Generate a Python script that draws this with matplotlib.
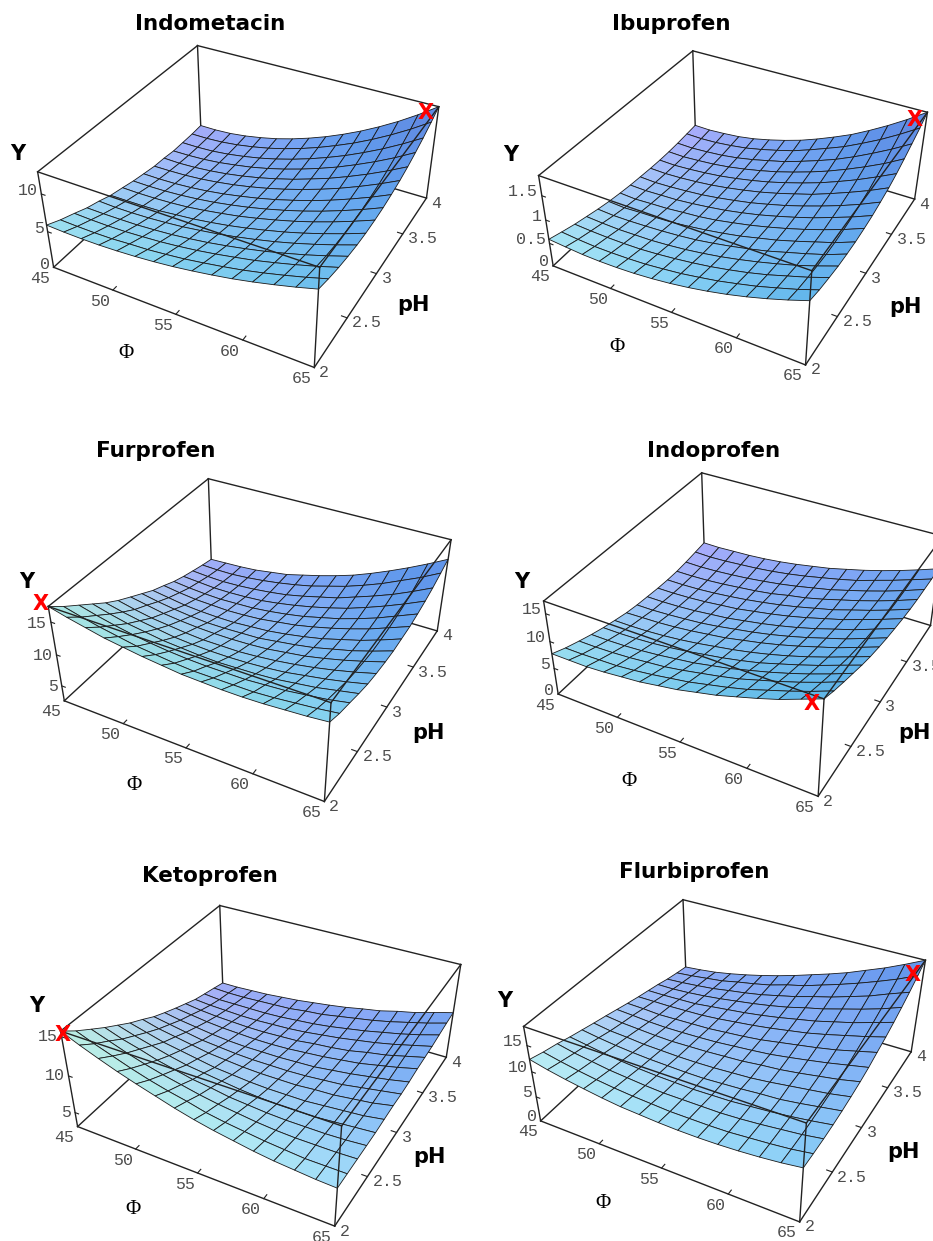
import numpy as np
import matplotlib
matplotlib.use('Agg')
import matplotlib.pyplot as plt

W, H = 933, 1241
names = ['Indometacin', 'Ibuprofen', 'Furprofen', 'Indoprofen', 'Ketoprofen', 'Flurbiprofen']
phi_grid = [45, 46.43, 47.86, 49.29, 50.71, 52.14, 53.57, 55, 56.43, 57.86, 59.29, 60.71, 62.14, 63.57, 65]
ph_grid = [2, 2.14, 2.29, 2.43, 2.57, 2.71, 2.86, 3, 3.14, 3.29, 3.43, 3.57, 3.71, 3.86, 4]
phi_ticks = [45, 50, 55, 60, 65]
ph_ticks = [2, 2.5, 3, 3.5, 4]
ph_tick_labels = ['2', '2.5', '3', '3.5', '4']
y_tick_sets = [[0, 5, 10], [0, 0.5, 1, 1.5], [5, 10, 15], [0, 5, 10, 15], [5, 10, 15], [0, 5, 10, 15]]
y_tick_labels = [['0', '5', '10'], ['0', '0.5', '1', '1.5'], ['5', '10', '15'], ['0', '5', '10', '15'], ['5', '10', '15'], ['0', '5', '10', '15']]
y_ranges = [(0, 12.8), (0, 1.9), (2.5, 17.3), (0, 17.2), (3, 15.7), (0, 18.5)]

# Y, rows = phi_grid, columns = ph_grid
y_indometacin = [
    [5.9, 5.1, 4.4, 3.7, 3.2, 2.6, 2.2, 1.8, 1.5, 1.2, 1.1, 0.9, 0.9, 0.9, 1.0],
    [5.8, 5.03, 4.32, 3.67, 3.11, 2.61, 2.17, 1.78, 1.48, 1.23, 1.05, 0.93, 0.89, 0.9, 0.99],
    [5.76, 5.0, 4.3, 3.7, 3.13, 2.65, 2.22, 1.85, 1.55, 1.31, 1.15, 1.04, 0.99, 1.02, 1.11],
    [5.78, 5.04, 4.36, 3.75, 3.23, 2.75, 2.34, 2.0, 1.72, 1.5, 1.36, 1.27, 1.24, 1.29, 1.4],
    [5.87, 5.2, 4.5, 3.9, 3.4, 2.99, 2.53, 2.24, 1.98, 1.79, 1.66, 1.63, 1.61, 1.68, 1.82],
    [6.02, 5.32, 4.67, 4.09, 3.63, 3.22, 2.85, 2.55, 2.33, 2.16, 2.07, 2.04, 2.07, 2.17, 2.34],
    [6.23, 5.56, 4.93, 4.38, 3.96, 3.56, 3.23, 2.96, 2.78, 2.63, 2.57, 2.58, 2.65, 2.8, 3.01],
    [6.5, 5.84, 5.25, 4.72, 4.32, 3.96, 3.65, 3.43, 3.28, 3.18, 3.17, 3.22, 3.34, 3.53, 3.8],
    [6.85, 6.22, 5.65, 5.15, 4.78, 4.44, 4.18, 3.99, 3.87, 3.82, 3.85, 3.96, 4.13, 4.38, 4.7],
    [7.25, 6.64, 6.11, 5.63, 5.29, 5.0, 4.77, 4.62, 4.56, 4.56, 4.65, 4.8, 5.03, 5.35, 5.73],
    [7.7, 7.11, 6.6, 6.17, 5.86, 5.6, 5.42, 5.32, 5.31, 5.36, 5.5, 5.72, 6.02, 6.4, 6.87],
    [8.23, 7.67, 7.2, 6.8, 6.51, 6.29, 6.16, 6.11, 6.15, 6.26, 6.48, 6.77, 7.14, 7.59, 8.14],
    [8.83, 8.3, 7.85, 7.48, 7.24, 7.07, 6.99, 7.0, 7.1, 7.27, 7.55, 7.91, 8.36, 8.91, 9.54],
    [9.48, 8.98, 8.56, 8.25, 8.04, 7.91, 7.9, 7.95, 8.12, 8.37, 8.73, 9.17, 9.72, 10.36, 11.1],
    [10.2, 9.73, 9.34, 9.08, 8.9, 8.83, 8.88, 9.0, 9.25, 9.58, 10.02, 10.57, 11.2, 11.96, 12.8],
]
y_ibuprofen = [
    [0.59, 0.51, 0.43, 0.37, 0.31, 0.26, 0.22, 0.19, 0.17, 0.15, 0.14, 0.14, 0.15, 0.17, 0.19],
    [0.56, 0.48, 0.41, 0.35, 0.29, 0.24, 0.2, 0.18, 0.155, 0.14, 0.13, 0.13, 0.14, 0.16, 0.18],
    [0.534, 0.46, 0.4, 0.34, 0.295, 0.26, 0.22, 0.195, 0.17, 0.155, 0.15, 0.152, 0.16, 0.174, 0.2],
    [0.527, 0.46, 0.4, 0.35, 0.31, 0.27, 0.235, 0.21, 0.196, 0.183, 0.18, 0.18, 0.188, 0.209, 0.23],
    [0.533, 0.47, 0.41, 0.36, 0.33, 0.29, 0.27, 0.245, 0.228, 0.221, 0.221, 0.226, 0.238, 0.258, 0.285],
    [0.551, 0.49, 0.44, 0.39, 0.36, 0.33, 0.3, 0.29, 0.28, 0.276, 0.28, 0.291, 0.308, 0.333, 0.365],
    [0.584, 0.53, 0.48, 0.43, 0.4, 0.38, 0.35, 0.343, 0.343, 0.343, 0.351, 0.368, 0.395, 0.422, 0.46],
    [0.63, 0.575, 0.53, 0.485, 0.46, 0.44, 0.42, 0.413, 0.413, 0.419, 0.434, 0.457, 0.485, 0.522, 0.57],
    [0.69, 0.64, 0.59, 0.55, 0.53, 0.51, 0.495, 0.493, 0.503, 0.513, 0.536, 0.565, 0.605, 0.652, 0.705],
    [0.763, 0.71, 0.665, 0.63, 0.61, 0.6, 0.585, 0.59, 0.6, 0.62, 0.647, 0.684, 0.733, 0.793, 0.855],
    [0.849, 0.8, 0.75, 0.72, 0.7, 0.69, 0.685, 0.695, 0.713, 0.731, 0.771, 0.818, 0.873, 0.94, 1.017],
    [0.949, 0.895, 0.85, 0.82, 0.81, 0.8, 0.795, 0.81, 0.836, 0.868, 0.914, 0.97, 1.038, 1.119, 1.21],
    [1.063, 1.01, 0.97, 0.93, 0.92, 0.92, 0.92, 0.945, 0.97, 1.015, 1.07, 1.137, 1.224, 1.31, 1.42],
    [1.19, 1.13, 1.09, 1.06, 1.04, 1.04, 1.055, 1.083, 1.12, 1.172, 1.245, 1.319, 1.422, 1.526, 1.65],
    [1.33, 1.27, 1.23, 1.2, 1.19, 1.19, 1.21, 1.24, 1.29, 1.35, 1.43, 1.53, 1.64, 1.76, 1.9],
]
y_furprofen = [
    [17.3, 15.7, 14.2, 12.8, 11.4, 10.2, 9.1, 8.1, 7.1, 6.3, 5.5, 4.9, 4.4, 3.9, 3.5],
    [16.6, 15.0, 13.5, 12.1, 10.8, 9.6, 8.6, 7.6, 6.7, 5.9, 5.2, 4.7, 4.2, 3.8, 3.6],
    [16.0, 14.4, 12.9, 11.5, 10.3, 9.1, 8.1, 7.2, 6.3, 5.6, 5.0, 4.5, 4.1, 3.8, 3.7],
    [15.4, 13.9, 12.4, 11.1, 9.9, 8.8, 7.8, 6.9, 6.1, 5.5, 4.9, 4.5, 4.2, 4.0, 3.9],
    [15.0, 13.4, 12.0, 10.7, 9.5, 8.5, 7.6, 6.7, 6.0, 5.4, 5.0, 4.6, 4.4, 4.3, 4.3],
    [14.6, 13.1, 11.7, 10.5, 9.3, 8.3, 7.5, 6.7, 6.0, 5.5, 5.1, 4.8, 4.7, 4.7, 4.7],
    [14.3, 12.8, 11.5, 10.3, 9.2, 8.3, 7.5, 6.8, 6.2, 5.7, 5.4, 5.2, 5.1, 5.2, 5.4],
    [14.0, 12.6, 11.4, 10.2, 9.2, 8.3, 7.6, 6.9, 6.4, 6.1, 5.8, 5.7, 5.7, 5.8, 6.1],
    [13.9, 12.6, 11.4, 10.3, 9.3, 8.5, 7.8, 7.3, 6.8, 6.5, 6.3, 6.3, 6.4, 6.6, 6.9],
    [13.8, 12.6, 11.4, 10.4, 9.5, 8.8, 8.2, 7.7, 7.3, 7.1, 7.0, 7.0, 7.1, 7.4, 7.8],
    [13.8, 12.6, 11.6, 10.6, 9.8, 9.2, 8.6, 8.2, 7.9, 7.8, 7.7, 7.8, 8.1, 8.4, 8.9],
    [13.9, 12.8, 11.8, 11.0, 10.3, 9.7, 9.2, 8.9, 8.7, 8.6, 8.6, 8.8, 9.1, 9.5, 10.1],
    [14.1, 13.1, 12.2, 11.4, 10.8, 10.3, 9.9, 9.6, 9.5, 9.5, 9.6, 9.9, 10.2, 10.8, 11.4],
    [14.3, 13.4, 12.6, 12.0, 11.4, 11.0, 10.7, 10.5, 10.5, 10.6, 10.8, 11.1, 11.5, 12.1, 12.8],
    [14.6, 13.8, 13.2, 12.6, 12.1, 11.8, 11.6, 11.5, 11.6, 11.7, 12.0, 12.4, 12.9, 13.6, 14.3],
]
y_indoprofen = [
    [7.76, 6.74, 5.84, 5.06, 4.38, 3.82, 3.26, 2.92, 2.7, 2.47, 2.36, 2.36, 2.53, 2.81, 3.09],
    [7.76, 6.74, 5.84, 5.06, 4.38, 3.82, 3.37, 2.92, 2.7, 2.47, 2.36, 2.36, 2.47, 2.7, 3.03],
    [7.76, 6.86, 5.96, 5.17, 4.5, 3.93, 3.48, 3.09, 2.81, 2.59, 2.47, 2.47, 2.59, 2.81, 3.15],
    [7.98, 6.97, 6.18, 5.4, 4.72, 4.16, 3.71, 3.32, 3.03, 2.81, 2.7, 2.7, 2.81, 3.03, 3.26],
    [8.32, 7.31, 6.52, 5.73, 5.06, 4.5, 4.05, 3.6, 3.37, 3.15, 3.03, 3.03, 3.09, 3.26, 3.48],
    [8.65, 7.76, 6.86, 6.18, 5.51, 4.95, 4.5, 4.05, 3.71, 3.48, 3.43, 3.37, 3.48, 3.6, 3.82],
    [9.22, 8.32, 7.42, 6.63, 6.07, 5.51, 4.95, 4.61, 4.27, 4.05, 3.93, 3.82, 3.93, 4.05, 4.27],
    [9.78, 8.88, 8.09, 7.31, 6.63, 6.07, 5.62, 5.17, 4.83, 4.61, 4.5, 4.5, 4.5, 4.61, 4.83],
    [10.57, 9.67, 8.77, 7.98, 7.31, 6.74, 6.29, 5.84, 5.51, 5.28, 5.17, 5.06, 5.17, 5.28, 5.4],
    [11.35, 10.45, 9.55, 8.88, 8.09, 7.53, 7.08, 6.63, 6.29, 6.07, 5.96, 5.84, 5.84, 5.96, 6.18],
    [12.36, 11.35, 10.57, 9.78, 9.1, 8.43, 7.98, 7.53, 7.19, 6.97, 6.74, 6.74, 6.74, 6.74, 6.97],
    [13.38, 12.48, 11.58, 10.79, 10.12, 9.44, 8.99, 8.54, 8.21, 7.87, 7.76, 7.64, 7.64, 7.76, 7.87],
    [14.5, 13.6, 12.7, 11.91, 11.24, 10.57, 10.0, 9.55, 9.22, 8.99, 8.77, 8.65, 8.65, 8.77, 8.88],
    [15.85, 14.84, 13.94, 13.15, 12.48, 11.8, 11.24, 10.79, 10.45, 10.12, 9.89, 9.78, 9.78, 9.89, 10.0],
    [17.2, 16.19, 15.29, 14.5, 13.71, 13.04, 12.48, 12.03, 11.69, 11.35, 11.13, 11.02, 11.02, 11.02, 11.18],
]
y_ketoprofen = [
    [15.7, 14.4, 13.2, 12.1, 11.1, 10.1, 9.2, 8.3, 7.6, 6.9, 6.3, 5.7, 5.3, 4.9, 4.5],
    [14.7, 13.5, 12.4, 11.3, 10.4, 9.5, 8.6, 7.9, 7.2, 6.6, 6.0, 5.5, 5.1, 4.8, 4.5],
    [13.8, 12.7, 11.6, 10.7, 9.8, 8.9, 8.2, 7.5, 6.9, 6.3, 5.8, 5.4, 5.1, 4.8, 4.6],
    [12.95, 11.9, 10.9, 10.0, 9.2, 8.5, 7.8, 7.1, 6.6, 6.1, 5.7, 5.3, 5.1, 4.9, 4.7],
    [12.2, 11.2, 10.3, 9.5, 8.7, 8.1, 7.4, 6.9, 6.4, 6.0, 5.6, 5.3, 5.1, 5.0, 4.9],
    [11.5, 10.6, 9.8, 9.0, 8.4, 7.7, 7.2, 6.7, 6.3, 5.9, 5.6, 5.4, 5.2, 5.1, 5.1],
    [10.8, 10.1, 9.3, 8.7, 8.1, 7.5, 7.0, 6.6, 6.3, 5.9, 5.7, 5.5, 5.4, 5.4, 5.4],
    [10.2, 9.5, 8.9, 8.3, 7.8, 7.3, 6.9, 6.6, 6.3, 6.0, 5.8, 5.7, 5.6, 5.6, 5.7],
    [9.7, 9.1, 8.6, 8.1, 7.6, 7.2, 6.9, 6.6, 6.4, 6.2, 6.1, 6.0, 5.9, 6.0, 6.05],
    [9.3, 8.8, 8.3, 7.9, 7.5, 7.2, 6.9, 6.7, 6.5, 6.4, 6.3, 6.3, 6.3, 6.4, 6.5],
    [8.9, 8.5, 8.1, 7.8, 7.5, 7.2, 7.1, 6.9, 6.8, 6.7, 6.6, 6.7, 6.7, 6.8, 6.9],
    [8.6, 8.3, 8.0, 7.8, 7.5, 7.4, 7.2, 7.1, 7.1, 7.0, 7.1, 7.1, 7.2, 7.3, 7.5],
    [8.4, 8.1, 8.0, 7.8, 7.7, 7.6, 7.5, 7.5, 7.5, 7.5, 7.5, 7.6, 7.7, 7.9, 8.0],
    [8.2, 8.1, 8.0, 7.9, 7.9, 7.8, 7.8, 7.9, 7.9, 8.0, 8.1, 8.2, 8.3, 8.5, 8.7],
    [8.1, 8.1, 8.1, 8.1, 8.1, 8.2, 8.3, 8.3, 8.4, 8.6, 8.7, 8.8, 9.0, 9.2, 9.35],
]
y_flurbiprofen = [
    [12.4, 11.7, 11.1, 10.4, 9.8, 9.2, 8.6, 8.0, 7.4, 6.8, 6.3, 5.8, 5.2, 4.7, 4.3],
    [11.6, 11.0, 10.4, 9.9, 9.3, 8.7, 8.2, 7.8, 7.3, 6.8, 6.3, 5.8, 5.4, 5.0, 4.6],
    [10.95, 10.4, 9.9, 9.4, 8.9, 8.5, 8.0, 7.55, 7.1, 6.8, 6.4, 6.0, 5.7, 5.4, 5.0],
    [10.4, 9.9, 9.4, 9.0, 8.6, 8.2, 7.8, 7.45, 7.2, 6.9, 6.5, 6.3, 6.05, 5.8, 5.6],
    [9.9, 9.5, 9.1, 8.7, 8.4, 8.1, 7.7, 7.5, 7.3, 7.0, 6.9, 6.7, 6.6, 6.5, 6.3],
    [9.5, 9.2, 8.8, 8.5, 8.3, 8.0, 7.8, 7.6, 7.4, 7.3, 7.3, 7.2, 7.1, 7.1, 7.1],
    [9.3, 9.0, 8.6, 8.4, 8.2, 8.0, 7.9, 7.75, 7.7, 7.7, 7.7, 7.7, 7.7, 7.8, 8.0],
    [9.1, 8.8, 8.6, 8.3, 8.2, 8.1, 8.1, 8.05, 8.0, 8.1, 8.2, 8.3, 8.5, 8.8, 9.0],
    [9.0, 8.8, 8.6, 8.4, 8.4, 8.3, 8.3, 8.35, 8.4, 8.6, 8.8, 9.0, 9.3, 9.6, 10.1],
    [9.0, 8.8, 8.6, 8.5, 8.6, 8.5, 8.7, 8.7, 9.0, 9.2, 9.5, 9.9, 10.3, 10.7, 11.2],
    [9.1, 8.9, 8.8, 8.8, 8.9, 8.9, 9.0, 9.25, 9.6, 9.8, 10.2, 10.7, 11.2, 11.8, 12.4],
    [9.3, 9.2, 9.1, 9.1, 9.1, 9.4, 9.5, 9.85, 10.2, 10.6, 11.1, 11.7, 12.3, 13.0, 13.8],
    [9.6, 9.5, 9.5, 9.5, 9.6, 9.9, 10.1, 10.5, 10.9, 11.5, 12.0, 12.7, 13.4, 14.3, 15.2],
    [10.0, 9.9, 9.9, 10.0, 10.2, 10.4, 10.7, 11.25, 11.8, 12.4, 13.1, 13.8, 14.8, 15.7, 16.8],
    [10.55, 10.5, 10.5, 10.6, 10.8, 11.1, 11.5, 12.0, 12.7, 13.4, 14.2, 15.1, 16.1, 17.3, 18.5],
]
y_tables = [y_indometacin, y_ibuprofen, y_furprofen, y_indoprofen, y_ketoprofen, y_flurbiprofen]

# box corners in pixels: bottom 45/2, 65/2, 65/4, 45/4 then top in the same order
corners = [
    [(53.3, 265.7), (314.3, 368.3), (426.7, 197.3), (201, 133.3), (37.7, 173.3), (320, 266.7), (438.3, 107.3), (197.7, 44.3)],
    [(553, 265.7), (806.3, 365), (914.3, 199), (695.3, 133.3), (538.7, 175.7), (811, 270.7), (927.7, 112.3), (693, 50.7)],
    [(63.3, 699.3), (325, 801.7), (437.3, 630), (211.7, 566.7), (49, 607.3), (330.7, 703.3), (450.7, 540), (208.3, 477.3)],
    [(558, 694), (818, 795.7), (931, 625.5), (704.3, 557.7), (543.7, 600.7), (824.3, 700), (942.3, 535.7), (702, 472.7)],
    [(75.7, 1124.3), (335, 1226.7), (446.7, 1054.3), (224, 996.7), (62.3, 1031.7), (341.7, 1127.3), (460, 966), (219, 902.7)],
    [(539.7, 1119.3), (800.3, 1221.7), (912, 1050), (686, 989), (524.3, 1026.7), (806, 1125), (924.3, 960.7), (683.7, 897.7)],
]
origins = [(0, 0), (467, 0), (0, 390), (467, 390), (0, 775), (467, 775)]
title_pos = [(210, 24), (671, 24), (156, 451), (714, 451), (210, 876), (694, 872)]
y_pos = [(18, 154), (511, 155), (27, 582), (522, 582), (37, 1006), (505, 1001)]
ph_pos = [(413, 305), (905, 307), (428, 733), (914, 733), (429, 1157), (903, 1152)]
phi_pos = [(126, 353), (617, 347), (134, 785), (629, 781), (133, 1209), (603, 1204)]
x_pos = [(426, 113), (915, 120), (41, 604), (812, 704), (63, 1035), (913, 975)]
y_label_dy = [-3, -4, 1, -4, 0, -4]
SIDE = 466
LINE = '#222222'
TICK = '#4d4d4d'


def fig_xy(px, py):
    return px / W, 1 - py / H


def build_proj(ax, pix, origin, yr):
    # projection matrix that puts the box corners where they are in the reference
    vx0, vx1 = ax.viewLim.intervalx
    vy0, vy1 = ax.viewLim.intervaly
    norm_pts = [(0, 0, 0), (1, 0, 0), (1, 1, 0), (0, 1, 0), (0, 0, 1), (1, 0, 1), (1, 1, 1), (0, 1, 1)]
    rows, rhs = [], []
    for (u, v, w), (px, py) in zip(norm_pts, pix):
        X = vx0 + (px - origin[0]) / SIDE * (vx1 - vx0)
        Y = vy0 + (SIDE - (py - origin[1])) / SIDE * (vy1 - vy0)
        rows.append([u, v, w, 1, 0, 0, 0, 0, -X * u, -X * v, -X * w])
        rhs.append(X)
        rows.append([0, 0, 0, 0, u, v, w, 1, -Y * u, -Y * v, -Y * w])
        rhs.append(Y)
    p = np.linalg.lstsq(np.array(rows), np.array(rhs), rcond=None)[0]
    # third row is only depth, it has to stay negative or mplot3d clips the point
    P = np.array([p[:4], p[4:8], [-1, 1, -0.5, -3], [p[8], p[9], p[10], 1.0]])
    N = np.array([[1 / 20, 0, 0, -45 / 20], [0, 0.5, 0, -1],
                  [0, 0, 1 / (yr[1] - yr[0]), -yr[0] / (yr[1] - yr[0])], [0, 0, 0, 1]])
    return P @ N


def face_colors(Z, yr):
    # three coloured lights fixed to the camera, like the old Mathematica default
    w = 0.4 * (Z - yr[0]) / (yr[1] - yr[0])
    du, dv = 1 / 14, 1 / 14
    dzdu = (w[1:, :-1] + w[1:, 1:] - w[:-1, :-1] - w[:-1, 1:]) / (2 * du)
    dzdv = (w[:-1, 1:] + w[1:, 1:] - w[:-1, :-1] - w[1:, :-1]) / (2 * dv)
    n = np.stack([-dzdu, -dzdv, np.ones_like(dzdu)], axis=-1)
    n /= np.linalg.norm(n, axis=-1, keepdims=True)
    view = np.array([1.3, -2.4, 2.0])
    view /= np.linalg.norm(view)
    right = np.array([2.4, 1.3, 0.0])
    right /= np.linalg.norm(right)
    up = np.cross(view, right)
    n_view = np.stack([n @ right, n @ up, n @ view], axis=-1)
    lights = np.array([[1, 0, 1], [1, 1, 1], [0, 1, 1]], dtype=float)
    lights /= np.linalg.norm(lights, axis=1, keepdims=True)
    raw = np.clip(n_view @ lights.T, 0, 1)
    # the reference is paler than the raw lighting, and less green towards the back
    rgb = np.array([0.38, 0.42, 0.60]) + np.array([0.60, 0.55, 0.38]) * raw
    depth = (np.arange(14) + 0.5) / 14
    rgb[..., 1] -= 0.3 * depth[None, :] * raw[..., 1] ** 2
    return np.concatenate([np.clip(rgb, 0, 1), np.ones(rgb.shape[:2] + (1,))], axis=-1)


fig = plt.figure(figsize=(W / 100, H / 100), dpi=100)
for i, name in enumerate(names):
    ox, oy = origins[i]
    ax = fig.add_axes([ox / W, 1 - (oy + SIDE) / H, SIDE / W, SIDE / H], projection='3d', computed_zorder=False)
    ax.set_axis_off()
    ax.patch.set_visible(False)
    y0, y1 = y_ranges[i]
    M = build_proj(ax, corners[i], origins[i], y_ranges[i])
    ax.get_proj = lambda M=M: M
    ax.M = M

    def project(a, b, c):
        v = M @ np.array([a, b, c, 1.0])
        X, Y = v[0] / v[3], v[1] / v[3]
        vx0, vx1 = ax.viewLim.intervalx
        vy0, vy1 = ax.viewLim.intervaly
        return ox + (X - vx0) / (vx1 - vx0) * SIDE, oy + SIDE - (Y - vy0) / (vy1 - vy0) * SIDE

    back = [((45, 4, y0), (45, 2, y0)), ((45, 4, y0), (65, 4, y0)), ((45, 4, y0), (45, 4, y1)),
            ((65, 4, y0), (65, 4, y1)), ((45, 4, y1), (65, 4, y1)), ((45, 4, y1), (45, 2, y1))]
    front = [((45, 2, y1), (65, 2, y1)), ((65, 2, y1), (65, 4, y1)), ((65, 2, y1), (65, 2, y0)),
             ((45, 2, y1), (45, 2, y0)), ((45, 2, y0), (65, 2, y0)), ((65, 2, y0), (65, 4, y0))]
    for seg in back:
        ax.plot(*zip(*seg), color=LINE, lw=1.0, zorder=1)

    P, Q = np.meshgrid(phi_grid, ph_grid, indexing='ij')
    Z = np.array(y_tables[i], dtype=float)
    ax.plot_surface(P, Q, Z, rstride=1, cstride=1, facecolors=face_colors(Z, y_ranges[i]),
                    edgecolor='#1a1a1a', linewidth=0.6, shade=False, zorder=2)

    for seg in front:
        ax.plot(*zip(*seg), color=LINE, lw=1.0, zorder=3)

    for t in phi_ticks:
        if 45 < t < 65:
            ax.plot([t, t], [2, 2.04], [y0, y0], color=LINE, lw=0.8, zorder=3)
        px, py = project(t, 2, y0)
        fig.text(*fig_xy(px - 13, py + 11), str(t), family='Liberation Mono', fontsize=12, color=TICK, ha='center', va='center')
    for t, lab in zip(ph_ticks, ph_tick_labels):
        if 2 < t < 4:
            ax.plot([65, 64.6], [t, t], [y0, y0], color=LINE, lw=0.8, zorder=3)
        px, py = project(65, t, y0)
        fig.text(*fig_xy(px + 5, py + 5), lab, family='Liberation Mono', fontsize=12, color=TICK, ha='left', va='center')
    for t, lab in zip(y_tick_sets[i], y_tick_labels[i]):
        if t > y0:
            ax.plot([45, 45.3], [2, 2], [t, t], color=LINE, lw=0.8, zorder=3)
        px, py = project(45, 2, t)
        fig.text(*fig_xy(px - 4, py + y_label_dy[i]), lab, family='Liberation Mono', fontsize=12, color=TICK, ha='right', va='center')

    fig.text(*fig_xy(*title_pos[i]), name, fontsize=15.5, fontweight='bold', ha='center', va='center')
    fig.text(*fig_xy(*y_pos[i]), 'Y', fontsize=15, fontweight='bold', ha='center', va='center')
    fig.text(*fig_xy(*ph_pos[i]), 'pH', fontsize=15, fontweight='bold', ha='center', va='center')
    fig.text(*fig_xy(*phi_pos[i]), '\u03a6', family='Liberation Serif', fontsize=15, ha='center', va='center')
    fig.text(*fig_xy(*x_pos[i]), 'X', fontsize=15, fontweight='bold', color='#ff0000', ha='center', va='center', zorder=10)

fig.savefig('out.png', dpi=100)
